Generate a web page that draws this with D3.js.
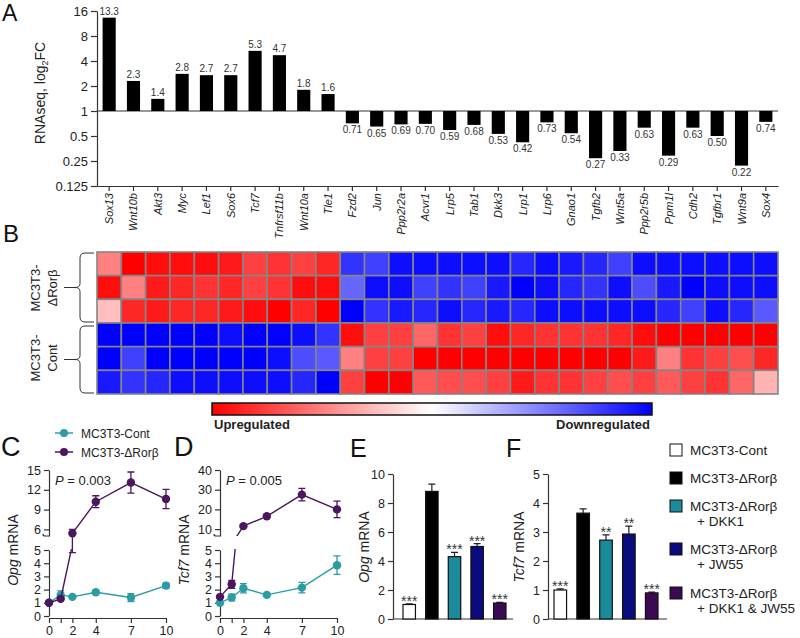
<!DOCTYPE html>
<html><head><meta charset="utf-8">
<script src="https://cdn.jsdelivr.net/npm/d3@7"></script>
<style>
body{margin:0;background:#fff}
svg{display:block}
text{font-family:"Liberation Sans",Arial,Helvetica,sans-serif;fill:#222}
.axis path,.axis line{stroke:#333;stroke-width:1.2}
</style>
</head><body><svg id="c" width="800" height="638"></svg>
<script>
// ---------------- DATA ----------------
const genes = ["Sox13","Wnt10b","Akt3","Myc","Lef1","Sox6","Tcf7","Tnfrsf11b","Wnt10a","Tle1","Fzd2","Jun","Ppp2r2a","Acvr1","Lrp5","Tab1","Dkk3","Lrp1","Lrp6","Gnao1","Tgfb2","Wnt5a","Ppp2r5b","Ppm1l","Cdh2","Tgfbr1","Wnt9a","Sox4"];
const foldChange = [13.3,2.3,1.4,2.8,2.7,2.7,5.3,4.7,1.8,1.6,0.71,0.65,0.69,0.70,0.59,0.68,0.53,0.42,0.73,0.54,0.27,0.33,0.63,0.29,0.63,0.50,0.22,0.74];
const foldLabels = ["13.3","2.3","1.4","2.8","2.7","2.7","5.3","4.7","1.8","1.6","0.71","0.65","0.69","0.70","0.59","0.68","0.53","0.42","0.73","0.54","0.27","0.33","0.63","0.29","0.63","0.50","0.22","0.74"];
const yTicksA = [0.125,0.25,0.5,1,2,4,8,16];

const heatRows = ["dR1","dR2","dR3","C1","C2","C3"];
// +1 = strongly upregulated (red), -1 = strongly downregulated (blue)
const heatRow1 = [0.5,1.0,0.95,0.95,0.95,0.9,0.75,0.8,0.75,0.85,-0.8,-0.75,-0.95,-0.95,-0.95,-0.95,-0.95,-0.85,-0.95,-0.9,-0.85,-0.75,-0.95,-0.95,-0.95,-0.95,-0.95,-0.95];
const heatRow2 = [0.95,0.5,0.9,0.85,0.8,0.85,0.75,0.8,0.95,0.95,-0.6,-0.95,-0.95,-0.75,-0.8,-0.75,-0.9,-1,-0.95,-0.85,-0.8,-0.95,-0.7,-0.9,-1,-0.95,-0.95,-0.95];
const heatRow3 = [0.25,0.85,0.9,0.85,0.85,0.9,0.95,1.0,0.85,1.0,-1,-0.8,-0.9,-0.85,-0.95,-0.85,-0.9,-0.85,-0.95,-0.95,-0.95,-0.95,-0.95,-0.85,-0.75,-0.95,-0.85,-0.65];
const heatRow4 = [-1,-1,-1,-1,-1,-0.95,-1,-1,-0.95,-0.8,0.95,0.75,0.75,0.6,0.8,0.75,0.95,0.85,0.8,0.8,0.8,0.85,0.95,1,1,1,1,1];
const heatRow5 = [-1,-0.75,-1,-1,-1,-1,-1,-0.95,-0.7,-0.65,0.5,0.75,0.75,1,1,1,1,1,1,1,1,1,0.9,0.5,0.8,0.75,0.7,0.85];
const heatRow6 = [-0.9,-0.8,-0.85,-0.95,-0.95,-0.95,-0.95,-0.95,-0.85,-1,0.75,1.0,1,0.65,0.7,0.7,0.75,0.9,0.8,0.8,0.75,0.7,0.75,0.65,0.75,0.8,0.6,0.3];
const heatValues = [heatRow1,heatRow2,heatRow3,heatRow4,heatRow5,heatRow6];

const days = [0,1,2,4,7,10];
const dayLabels = ["0","","2","4","7","10"];
const opgCont = [1.0,1.6,1.45,1.8,1.4,2.3];
const opgContErr = [0.05,0.3,0.1,0.12,0.3,0.2];
const opgRor = [1.0,1.3,5.4,10.2,13.1,10.6];
const opgRorErr = [0.05,0.1,0.6,0.9,1.6,1.45];
const tcfCont = [1.0,1.4,2.1,1.6,2.15,3.85];
const tcfContErr = [0.05,0.25,0.35,0.1,0.4,0.7];
const tcfRor = [1.45,2.4,11.5,16.5,27.5,20];
const tcfRorErr = [0.1,0.3,0.5,0.6,3.2,4.2];

const groups = ["MC3T3-Cont","MC3T3-ΔRorβ","MC3T3-ΔRorβ + DKK1","MC3T3-ΔRorβ + JW55","MC3T3-ΔRorβ + DKK1 & JW55"];
const groupColors = ["#ffffff","#000000","#1b8a9a","#0b0b80","#3b0a52"];
const opgBar = [1.0,8.8,4.3,5.0,1.1];
const opgBarErr = [0.05,0.5,0.3,0.2,0.05];
const opgStars = ["***","","***","***","***"];
const tcfBar = [1.0,3.65,2.72,2.93,0.9];
const tcfBarErr = [0.04,0.15,0.18,0.27,0.03];
const tcfStars = ["***","","**","**","***"];

const teal = "#2a9ca3", purple = "#4a165e";

// ---------------- DRAW ----------------
const svg = d3.select("#c");

function letter(t,x,y,s){ svg.append("text").attr("x",x).attr("y",y).attr("font-size",s).style("fill","#111").text(t); }

// ===== Panel A =====
letter("A",2,21,23);
const xA = d3.scaleBand().domain(genes).range([97,778]).paddingInner(0.46).paddingOuter(0.23);
const yA = d3.scaleLog().base(2).domain([0.125,16]).range([186,11]);
const gA = svg.append("g");
gA.append("g").attr("class","axis").attr("transform","translate(97,0)")
  .call(d3.axisLeft(yA).tickValues(yTicksA).tickFormat(d=>String(d)).tickSize(6).tickSizeOuter(0))
  .call(g=>g.selectAll("text").attr("font-size",13).style("font-family",null).attr("fill",null));
gA.append("g").attr("class","axis").attr("transform","translate(0,186)")
  .call(d3.axisBottom(xA).tickSize(5).tickSizeOuter(0).tickFormat(""));
gA.append("line").attr("x1",97).attr("x2",778).attr("y1",yA(1)).attr("y2",yA(1)).attr("stroke","#333").attr("stroke-width",1.2);
gA.selectAll("rect.bar").data(genes).join("rect").attr("class","bar")
  .attr("x",d=>xA(d)).attr("width",xA.bandwidth())
  .attr("y",(d,i)=>Math.min(yA(foldChange[i]),yA(1)))
  .attr("height",(d,i)=>Math.abs(yA(foldChange[i])-yA(1)))
  .attr("fill","#000");
gA.selectAll("text.val").data(genes).join("text").attr("class","val")
  .attr("x",d=>xA(d)+xA.bandwidth()/2)
  .attr("y",(d,i)=>foldChange[i]>1 ? yA(foldChange[i])-3 : yA(foldChange[i])+10)
  .attr("text-anchor","middle").attr("font-size",10).style("fill","#333")
  .text((d,i)=>foldLabels[i]);
gA.selectAll("text.gene").data(genes).join("text").attr("class","gene")
  .attr("transform",d=>`translate(${xA(d)+xA.bandwidth()/2+4},193) rotate(-90)`)
  .attr("text-anchor","end").attr("font-size",11).attr("font-style","italic").text(d=>d);
const yl = gA.append("text").attr("transform","translate(45,93) rotate(-90)").attr("text-anchor","middle").attr("font-size",14);
yl.append("tspan").text("RNAseq, log");
yl.append("tspan").attr("font-size",9).attr("dy",3).text("2");
yl.append("tspan").attr("dy",-3).text("FC");

// ===== Panel B =====
letter("B",3,242,24);
const xH = d3.scaleBand().domain(genes).range([97,778]);
const yH = d3.scaleBand().domain(heatRows).range([252,394]);
const cH = d3.scaleLinear().domain([-1,0,1]).range(["#0000ff","#ffffff","#ff0000"]);
const gB = svg.append("g");
heatRows.forEach((r,ri)=>{
  gB.selectAll(null).data(genes).join("rect")
    .attr("x",d=>xH(d)).attr("y",yH(r)).attr("width",xH.bandwidth()).attr("height",yH.bandwidth())
    .attr("fill",(d,ci)=>cH(heatValues[ri][ci]))
    .attr("stroke","#858585").attr("stroke-width",1.6);
});
function brace(yt,yb){
  const ym=(yt+yb)/2;
  gB.append("path").attr("fill","none").attr("stroke","#333").attr("stroke-width",1)
    .attr("d",`M94,${yt} H85 Q80,${yt} 80,${yt+5} V${ym-4} Q80,${ym} 75,${ym} H64 M75,${ym} Q80,${ym} 80,${ym+4} V${yb-5} Q80,${yb} 85,${yb} H94`);
}
brace(253,322); brace(326,393);
function sideLabel(l1,l2,ym){
  gB.append("text").attr("transform",`translate(40,${ym}) rotate(-90)`).attr("text-anchor","middle").attr("font-size",13).text(l1);
  gB.append("text").attr("transform",`translate(57,${ym}) rotate(-90)`).attr("text-anchor","middle").attr("font-size",13).text(l2);
}
sideLabel("MC3T3-","ΔRorβ",288);
sideLabel("MC3T3-","Cont",358);
// color bar
const defs = svg.append("defs");
const grad = defs.append("linearGradient").attr("id","cbar");
[[0,"#ff0000"],[0.5,"#ffffff"],[1,"#0000ff"]].forEach(s=>grad.append("stop").attr("offset",s[0]).attr("stop-color",s[1]));
gB.append("rect").attr("x",212).attr("y",403).attr("width",440).attr("height",12).attr("fill","url(#cbar)").attr("stroke","#111").attr("stroke-width",1.5);
gB.append("text").attr("x",214).attr("y",429).attr("font-size",13).attr("font-weight","bold").text("Upregulated");
gB.append("text").attr("x",650).attr("y",429).attr("text-anchor","end").attr("font-size",13).attr("font-weight","bold").text("Downregulated");

// ===== Panels C & D =====
letter("C",1,456,27);
letter("D",174,456,27);
// legend
[[teal,"MC3T3-Cont",433],[purple,"MC3T3-ΔRorβ",452]].forEach(([c,t,y])=>{
  svg.append("line").attr("x1",55).attr("x2",73).attr("y1",y).attr("y2",y).attr("stroke",c).attr("stroke-width",1.5);
  svg.append("circle").attr("cx",64).attr("cy",y).attr("r",4).attr("fill",c);
  svg.append("text").attr("x",81).attr("y",y+4.5).attr("font-size",12).text(t);
});

const intFmt = d3.format("d");
function timeCourse(o){
  const g = svg.append("g");
  const x = d3.scaleLinear().domain([0,10]).range([o.ax,o.ax+117]);
  const yLo = d3.scaleLinear().domain([0,5]).range([616,550]);
  const yHi = d3.scaleLinear().domain(o.hiDomain).range([o.hiBottom,470]);
  const fmt = g=>g.selectAll("text").attr("font-size",12.5).attr("fill",null).style("font-family",null);
  g.append("g").attr("class","axis").attr("transform",`translate(${o.ax},0)`)
    .call(d3.axisLeft(yLo).tickValues([0,1,2,3,4,5]).tickFormat(intFmt).tickSize(5).tickSizeOuter(0)).call(fmt);
  g.append("g").attr("class","axis").attr("transform",`translate(${o.ax},0)`)
    .call(d3.axisLeft(yHi).tickValues(o.hiTicks).tickFormat(intFmt).tickSize(5).tickSizeOuter(0)).call(fmt);
  g.append("path").attr("fill","none").attr("stroke","#333").attr("stroke-width",1.2)
    .attr("d",`M${o.ax},${o.hiBottom} h-4 q-2,0 -2,-2`);
  g.append("g").attr("class","axis").attr("transform","translate(0,618)")
    .call(d3.axisBottom(x).tickValues(days).tickFormat((d,i)=>dayLabels[i]).tickSize(5).tickSizeOuter(0)).call(fmt);
  const cl = "clipLo"+o.id, ch = "clipHi"+o.id;
  defs.append("clipPath").attr("id",cl).append("rect").attr("x",o.ax-10).attr("y",549).attr("width",140).attr("height",80);
  defs.append("clipPath").attr("id",ch).append("rect").attr("x",o.ax-10).attr("y",460).attr("width",140).attr("height",o.hiBottom-460);
  const ys = v=> v>5 ? yHi(v) : yLo(v);
  o.series.forEach(s=>{
    const pts = days.map((d,i)=>({d,v:s.v[i],e:s.e[i]}));
    [[yLo,cl],[yHi,ch]].forEach(([yy,cid])=>{
      g.append("path").attr("clip-path",`url(#${cid})`).attr("fill","none").attr("stroke",s.c).attr("stroke-width",1.4)
        .attr("d",d3.line().x(p=>x(p.d)).y(p=>yy(p.v))(pts));
    });
    pts.forEach(p=>{
      const yt=ys(p.v+p.e), yb=ys(p.v-p.e), cx=x(p.d);
      g.append("path").attr("fill","none").attr("stroke",s.c).attr("stroke-width",1.3)
        .attr("d",`M${cx},${yt}V${yb}M${cx-3.5},${yt}H${cx+3.5}M${cx-3.5},${yb}H${cx+3.5}`);
      g.append("circle").attr("cx",cx).attr("cy",ys(p.v)).attr("r",4.2).attr("fill",s.c);
    });
  });
  const pt = g.append("text").attr("x",o.ax+6).attr("y",484.5).attr("font-size",13);
  pt.append("tspan").attr("font-style","italic").text("P");
  pt.append("tspan").text(" = "+o.p);
  const lab = g.append("text").attr("transform",`translate(${o.ax-31},550) rotate(-90)`).attr("text-anchor","middle").attr("font-size",14);
  lab.append("tspan").attr("font-style","italic").text(o.gene);
  lab.append("tspan").text(" mRNA");
}
timeCourse({id:"C",ax:49,hiDomain:[5,15],hiBottom:536,hiTicks:[6,9,12,15],p:"0.003",gene:"Opg",
  series:[{v:opgCont,e:opgContErr,c:teal},{v:opgRor,e:opgRorErr,c:purple}]});
timeCourse({id:"D",ax:220,hiDomain:[6.5,40],hiBottom:536,hiTicks:[10,20,30,40],p:"0.005",gene:"Tcf7",
  series:[{v:tcfCont,e:tcfContErr,c:teal},{v:tcfRor,e:tcfRorErr,c:purple}]});

// ===== Panels E & F =====
letter("E",350,457,25);
letter("F",506,457,25);
function barPanel(o){
  const g = svg.append("g");
  const x = d3.scaleBand().domain(groups).range(o.range).paddingInner(0.45).paddingOuter(0);
  const y = d3.scaleLinear().domain([0,o.max]).range([619,474]);
  const fmt = g=>g.selectAll("text").attr("font-size",12.5).attr("fill",null).style("font-family",null);
  g.append("g").attr("class","axis").attr("transform",`translate(${o.ax},0)`)
    .call(d3.axisLeft(y).tickValues(o.ticks).tickFormat(intFmt).tickSize(5).tickSizeOuter(0)).call(fmt);
  g.append("line").attr("x1",o.ax).attr("x2",o.axEnd).attr("y1",619).attr("y2",619).attr("stroke","#333").attr("stroke-width",1.2);
  groups.forEach((gr,i)=>{
    const cx = x(gr)+x.bandwidth()/2, top=y(o.v[i]+o.e[i]);
    g.append("path").attr("fill","none").attr("stroke","#222").attr("stroke-width",1.2)
      .attr("d",`M${cx},${y(o.v[i])}V${top}M${cx-3.5},${top}H${cx+3.5}`);
    g.append("rect").attr("x",x(gr)).attr("width",x.bandwidth()).attr("y",y(o.v[i])).attr("height",619-y(o.v[i]))
      .attr("fill",groupColors[i]).attr("stroke","#111").attr("stroke-width",1.2);
    if(o.s[i]) g.append("text").attr("x",cx).attr("y",top+2).attr("text-anchor","middle").attr("font-size",14).style("fill","#333").text(o.s[i]);
  });
  const lab = g.append("text").attr("transform",`translate(${o.ax-24},547) rotate(-90)`).attr("text-anchor","middle").attr("font-size",14);
  lab.append("tspan").attr("font-style","italic").text(o.gene);
  lab.append("tspan").text(" mRNA");
}
barPanel({ax:393,axEnd:513,range:[403,506],max:10,ticks:[0,2,4,6,8,10],v:opgBar,e:opgBarErr,s:opgStars,gene:"Opg"});
barPanel({ax:548,axEnd:667,range:[554,658],max:5,ticks:[0,1,2,3,4,5],v:tcfBar,e:tcfBarErr,s:tcfStars,gene:"Tcf7"});

// legend
const legY = [450,478,506,549,593];
const legL2 = [null,null,"+ DKK1","+ JW55","+ DKK1 & JW55"];
groups.forEach((gr,i)=>{
  svg.append("rect").attr("x",670).attr("y",legY[i]-6).attr("width",12).attr("height",12)
    .attr("fill",groupColors[i]).attr("stroke","#111").attr("stroke-width",1);
  svg.append("text").attr("x",690).attr("y",legY[i]+5).attr("font-size",13.5).text(i===0?"MC3T3-Cont":"MC3T3-ΔRorβ");
  if(legL2[i]) svg.append("text").attr("x",697).attr("y",legY[i]+20).attr("font-size",13.5).text(legL2[i]);
});
</script>
</body></html>
